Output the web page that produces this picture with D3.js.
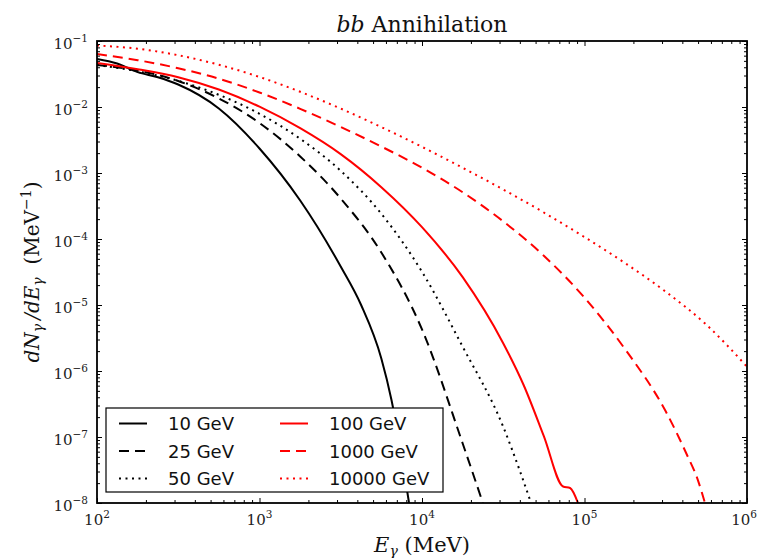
<!DOCTYPE html>
<html>
<head>
<meta charset="utf-8">
<script src="https://cdn.jsdelivr.net/npm/d3@7"></script>
<style>
  html, body { margin: 0; padding: 0; background: #fff; }
  svg { display: block; }
</style>
</head>
<body>
<svg id="chart" width="758" height="558"></svg>
<script>
// Photon spectra dN/dE for b-bbar annihilation at several dark-matter masses
const seriesLabels = ["10 GeV", "25 GeV", "50 GeV", "100 GeV", "1000 GeV", "10000 GeV"];

// Photon energy (MeV) and spectrum value (MeV^-1) for each mass
const e10 = [100, 133, 178, 237, 316, 562, 1000, 1780, 3160, 4220, 5620, 6490, 7500, 8320];
const v10 = [5.34e-2, 4.56e-2, 3.37e-2, 2.82e-2, 2.19e-2, 9.49e-3, 2.35e-3, 3.83e-4, 3.83e-5, 1.0e-5, 1.55e-6, 3.64e-7, 5.15e-8, 1.0e-8];

const e25 = [100, 178, 316, 562, 1000, 1780, 3160, 5620, 10000, 17800, 23700];
const v25 = [4.33e-2, 3.57e-2, 2.48e-2, 1.35e-2, 5.72e-3, 1.78e-3, 4.11e-4, 6.25e-5, 4.26e-6, 7.97e-8, 1.0e-8];

const e50 = [100, 178, 316, 562, 1000, 1780, 3160, 5620, 10000, 17800, 31600, 39800, 46900];
const v50 = [4.33e-2, 3.47e-2, 2.49e-2, 1.53e-2, 7.89e-3, 3.30e-3, 1.08e-3, 2.41e-4, 3.18e-5, 2.33e-6, 1.43e-7, 3.18e-8, 1.0e-8];

const e100 = [100, 178, 316, 562, 1000, 1780, 3160, 5620, 10000, 17800, 31600, 42200, 56200, 73800, 81500, 91200];
const v100 = [4.64e-2, 3.74e-2, 2.83e-2, 1.84e-2, 1.01e-2, 4.77e-3, 1.93e-3, 6.09e-4, 1.51e-4, 2.64e-5, 2.64e-6, 6.14e-7, 1.03e-7, 1.78e-8, 1.69e-8, 1.0e-8];

const e1000 = [100, 178, 316, 562, 1000, 1780, 3160, 5620, 10000, 17800, 31600, 56200, 100000, 178000, 316000, 422000, 501000, 551000];
const v1000 = [6.35e-2, 5.12e-2, 3.87e-2, 2.68e-2, 1.66e-2, 9.39e-3, 4.98e-3, 2.52e-3, 1.20e-3, 5.10e-4, 1.85e-4, 5.57e-5, 1.29e-5, 2.13e-6, 2.45e-7, 5.72e-8, 2.15e-8, 1.0e-8];

const e10000 = [100, 178, 316, 562, 1000, 1780, 3160, 5620, 10000, 17800, 31600, 56200, 100000, 178000, 316000, 562000, 1000000];
const v10000 = [8.55e-2, 7.64e-2, 6.09e-2, 4.37e-2, 2.85e-2, 1.70e-2, 9.46e-3, 4.96e-3, 2.49e-3, 1.20e-3, 5.62e-4, 2.52e-4, 1.07e-4, 4.30e-5, 1.59e-5, 5.03e-6, 1.16e-6];

const xTickExponents = [2, 3, 4, 5, 6];
const yTickExponents = [-8, -7, -6, -5, -4, -3, -2, -1];

// Colour and dash pattern of each series
const styles = [
  { color: "#000000", dash: null },
  { color: "#000000", dash: "10,6" },
  { color: "#000000", dash: "2,4.5" },
  { color: "#ff0000", dash: null },
  { color: "#ff0000", dash: "10,6" },
  { color: "#ff0000", dash: "2,4.5" }
];

const seriesData = [
  [e10, v10], [e25, v25], [e50, v50], [e100, v100], [e1000, v1000], [e10000, v10000]
].map(([e, v]) => e.map((d, i) => ({ e: d, v: v[i] })));

const margin = { left: 97, top: 41, right: 747, bottom: 503 };
const svg = d3.select("#chart");

const x = d3.scaleLog().domain([1e2, 1e6]).range([margin.left, margin.right]);
const y = d3.scaleLog().domain([1e-8, 1e-1]).range([margin.bottom, margin.top]);

svg.append("defs").append("clipPath").attr("id", "plotclip")
  .append("rect")
  .attr("x", margin.left).attr("y", margin.top)
  .attr("width", margin.right - margin.left)
  .attr("height", margin.bottom - margin.top);

// Curves
const line = d3.line()
  .x(d => x(d.e))
  .y(d => y(d.v))
  .curve(d3.curveMonotoneX);

const curves = svg.append("g").attr("clip-path", "url(#plotclip)");
seriesData.forEach((data, i) => {
  curves.append("path")
    .datum(data)
    .attr("d", line)
    .attr("fill", "none")
    .attr("stroke", styles[i].color)
    .attr("stroke-width", 2)
    .attr("stroke-dasharray", styles[i].dash)
    .attr("stroke-linejoin", "round");
});

// Minor tick values (2..9 in every decade)
function minors(lo, hi) {
  const out = [];
  for (let k = lo; k < hi; k++) {
    for (let m = 2; m <= 9; m++) out.push(m * Math.pow(10, k));
  }
  return out;
}
const xMajor = xTickExponents.map(k => Math.pow(10, k));
const yMajor = yTickExponents.map(k => Math.pow(10, k));
const xMinor = minors(2, 6);
const yMinor = minors(-8, -1);

function styleAxis(g) {
  g.select(".domain").remove();
  g.selectAll("line").attr("stroke", "#000").attr("stroke-width", 1);
}

// Inward ticks on all four sides
svg.append("g").attr("transform", `translate(0,${margin.bottom})`)
  .call(d3.axisBottom(x).tickValues(xMajor).tickSize(-5).tickFormat("")).call(styleAxis);
svg.append("g").attr("transform", `translate(0,${margin.bottom})`)
  .call(d3.axisBottom(x).tickValues(xMinor).tickSize(-3).tickFormat("")).call(styleAxis);
svg.append("g").attr("transform", `translate(0,${margin.top})`)
  .call(d3.axisTop(x).tickValues(xMajor).tickSize(-5).tickFormat("")).call(styleAxis);
svg.append("g").attr("transform", `translate(0,${margin.top})`)
  .call(d3.axisTop(x).tickValues(xMinor).tickSize(-3).tickFormat("")).call(styleAxis);
svg.append("g").attr("transform", `translate(${margin.left},0)`)
  .call(d3.axisLeft(y).tickValues(yMajor).tickSize(-5).tickFormat("")).call(styleAxis);
svg.append("g").attr("transform", `translate(${margin.left},0)`)
  .call(d3.axisLeft(y).tickValues(yMinor).tickSize(-3).tickFormat("")).call(styleAxis);
svg.append("g").attr("transform", `translate(${margin.right},0)`)
  .call(d3.axisRight(y).tickValues(yMajor).tickSize(-5).tickFormat("")).call(styleAxis);
svg.append("g").attr("transform", `translate(${margin.right},0)`)
  .call(d3.axisRight(y).tickValues(yMinor).tickSize(-3).tickFormat("")).call(styleAxis);

// Frame
svg.append("rect")
  .attr("x", margin.left).attr("y", margin.top)
  .attr("width", margin.right - margin.left)
  .attr("height", margin.bottom - margin.top)
  .attr("fill", "none").attr("stroke", "#000").attr("stroke-width", 1.8);

// Tick labels: 10 with a superscript exponent
const serif = "'DejaVu Serif', serif";
function expText(k) { return k < 0 ? "\u2212" + Math.abs(k) : String(k); }

xTickExponents.forEach((k, i) => {
  const last = i === xTickExponents.length - 1;
  const t = svg.append("text")
    .attr("x", last ? 757 : x(Math.pow(10, k)))
    .attr("y", 525)
    .attr("text-anchor", last ? "end" : "middle")
    .attr("font-family", serif).attr("font-size", 15).attr("fill", "#222");
  t.append("tspan").text("10");
  t.append("tspan").attr("dy", -7).attr("font-size", 10.5).text(expText(k));
});

yTickExponents.forEach(k => {
  const t = svg.append("text")
    .attr("x", 88).attr("y", y(Math.pow(10, k)) + 7.5)
    .attr("text-anchor", "end")
    .attr("font-family", serif).attr("font-size", 15).attr("fill", "#222");
  t.append("tspan").text("10");
  t.append("tspan").attr("dy", -7).attr("font-size", 10.5).text(expText(k));
});

// Title
const title = svg.append("text")
  .attr("x", (margin.left + margin.right) / 2).attr("y", 32)
  .attr("text-anchor", "middle")
  .attr("font-family", serif).attr("font-size", 22).attr("fill", "#111");
title.append("tspan").attr("font-style", "italic").text("bb");
title.append("tspan").text(" Annihilation");

// X axis label
const xl = svg.append("text")
  .attr("x", (margin.left + margin.right) / 2).attr("y", 552)
  .attr("text-anchor", "middle")
  .attr("font-family", serif).attr("font-size", 21).attr("fill", "#111");
xl.append("tspan").attr("font-style", "italic").text("E");
xl.append("tspan").attr("font-style", "italic").attr("font-size", 14).attr("dy", 4).text("\u03b3");
xl.append("tspan").attr("dy", -4).text("\u00a0(MeV)");

// Y axis label
const yl = svg.append("text")
  .attr("transform", `translate(39,${(margin.top + margin.bottom) / 2}) rotate(-90)`)
  .attr("text-anchor", "middle")
  .attr("font-family", serif).attr("font-size", 20).attr("fill", "#111");
yl.append("tspan").attr("font-style", "italic").text("dN");
yl.append("tspan").attr("font-style", "italic").attr("font-size", 14).attr("dy", 4).text("\u03b3");
yl.append("tspan").attr("dy", -4).attr("font-style", "italic").text("\u2009/dE");
yl.append("tspan").attr("font-style", "italic").attr("font-size", 14).attr("dy", 4).text("\u03b3");
yl.append("tspan").attr("dy", -4).text("\u00a0\u00a0(MeV");
yl.append("tspan").attr("font-size", 14).attr("dy", -8).text("\u22121");
yl.append("tspan").attr("dy", 8).text(")");

// Legend
const legend = svg.append("g");
legend.append("rect")
  .attr("x", 106).attr("y", 408).attr("width", 337).attr("height", 84)
  .attr("fill", "#fff").attr("stroke", "#000").attr("stroke-width", 1.2);

const colX = [119, 280];
const rowY = [423.5, 451, 478.5];
seriesLabels.forEach((label, i) => {
  const cx = colX[Math.floor(i / 3)];
  const cy = rowY[i % 3];
  legend.append("line")
    .attr("x1", cx).attr("x2", cx + 28)
    .attr("y1", cy).attr("y2", cy)
    .attr("stroke", styles[i].color)
    .attr("stroke-width", 2)
    .attr("stroke-dasharray", styles[i].dash);
  legend.append("text")
    .attr("x", cx + 49).attr("y", cy + 6.5)
    .attr("font-family", "'DejaVu Sans', sans-serif")
    .attr("font-size", 18).attr("fill", "#111")
    .text(label);
});
</script>
</body>
</html>
